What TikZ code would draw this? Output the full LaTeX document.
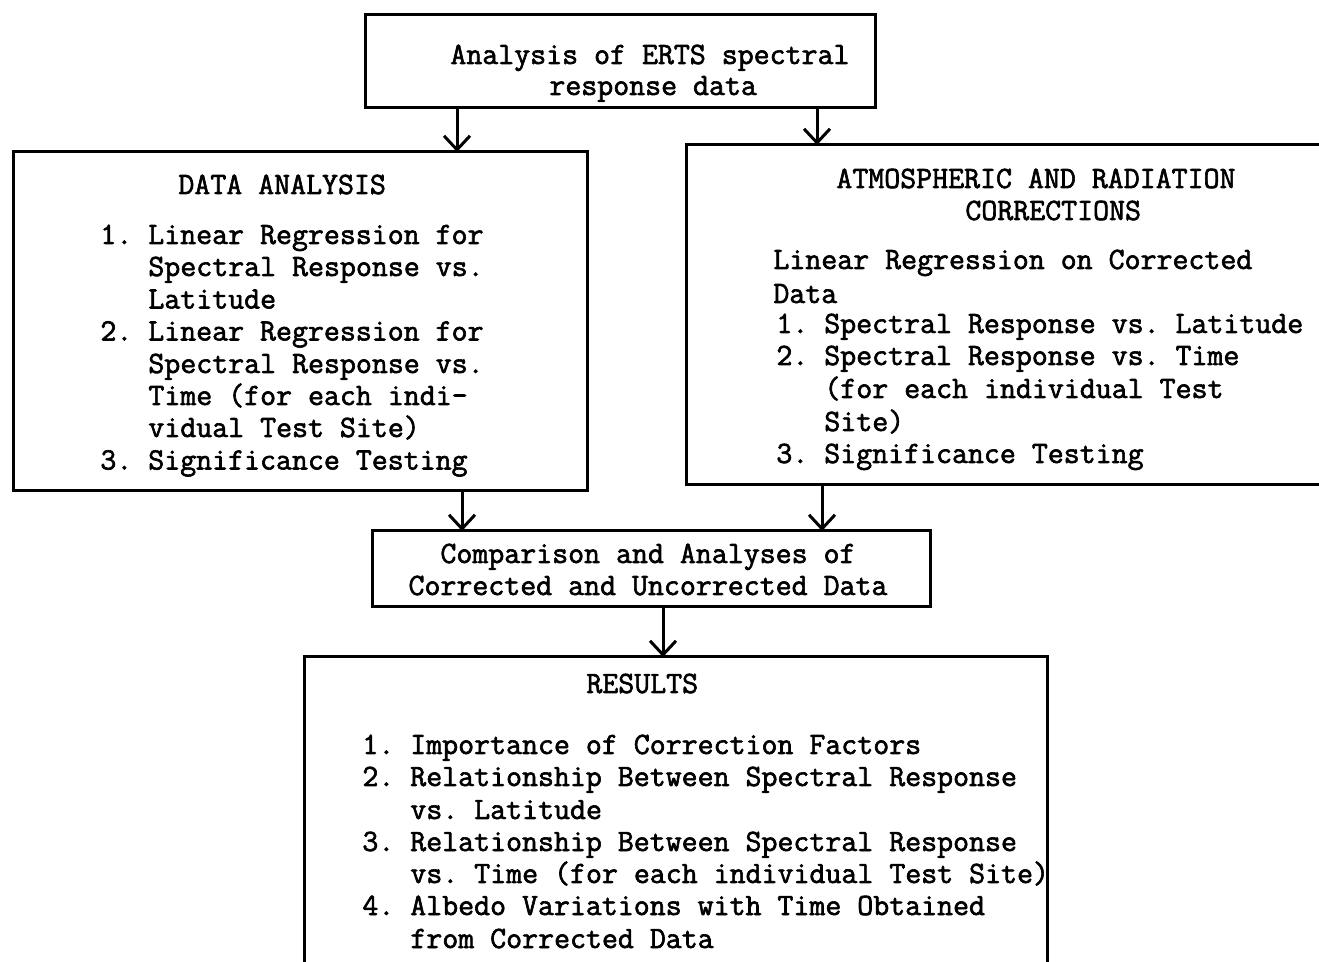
\documentclass[tikz,border=0pt]{standalone}
\usepackage{fontspec}
\setmonofont{Latin Modern Mono}[FakeBold=2]
\frenchspacing
\usetikzlibrary{arrows.meta}
\tikzset{
  box/.style={draw, line width=1.5pt, inner sep=0pt, outer sep=0pt, rectangle},
  txt/.style={anchor=base west, inner sep=0pt, font=\ttfamily\fontsize{15.5pt}{18pt}\selectfont},
  ctxt/.style={anchor=base, inner sep=0pt, font=\ttfamily\fontsize{15.5pt}{18pt}\selectfont},
  arr/.style={line width=1.5pt, -{Straight Barb[length=7pt,width=13pt,line width=1.5pt]}}
}
\newcommand\TL[4]{\node[txt] (#1) at (#2,#3) {#4};}
\begin{document}
\begin{tikzpicture}[x=0.5pt,y=-0.5pt]
\useasboundingbox (0,0) rectangle (1319,962);
\clip (0,0) rectangle (1319,962);
% boxes
\node[box, minimum width=255pt, minimum height=46.5pt] (top) at (620,61.5) {};
\node[box, minimum width=287pt, minimum height=169.5pt] (da) at (300,321.5) {};
\node[box, minimum width=357pt, minimum height=170pt] (atm) at (1043,315) {};
\node[box, minimum width=279pt, minimum height=38pt] (cmp) at (651,569) {};
\node[box, minimum width=371.5pt, minimum height=171.5pt] (res) at (675.5,828.5) {};
% arrows
\draw[arr] (top.south -| 457,0) -- (da.north -| 457,0);
\draw[arr] (top.south -| 817,0) -- (atm.north -| 817,0);
\draw[arr] (da.south -| 462,0) -- (cmp.north -| 462,0);
\draw[arr] (atm.south -| 822,0) -- (cmp.north -| 822,0);
\draw[arr] (cmp.south -| 663,0) -- (res.north -| 663,0);
% top text
\TL{t1}{450}{64}{Analysis of ERTS spectral}
\TL{t2}{549}{95}{response data}
% data analysis
\TL{d0}{178}{194}{DATA ANALYSIS}
\TL{d1}{100}{244}{1. Linear Regression for}
\TL{d2}{148}{276}{Spectral Response vs.}
\TL{d3}{148}{308.5}{Latitude}
\TL{d4}{100}{340.5}{2. Linear Regression for}
\TL{d5}{148}{373}{Spectral Response vs.}
\TL{d6}{148}{405}{Time (for each indi-}
\TL{d7}{148}{437}{vidual Test Site)}
\TL{d8}{100}{469.5}{3. Significance Testing}
% atmospheric
\TL{a0}{836}{188}{ATMOSPHERIC AND RADIATION}
\TL{a1}{965}{220}{CORRECTIONS}
\TL{a2}{773}{269}{Linear Regression on Corrected}
\TL{a3}{773}{303}{Data}
\TL{a4}{776}{333}{1. Spectral Response vs. Latitude}
\TL{a5}{776}{365}{2. Spectral Response vs. Time}
\TL{a6}{824}{398}{(for each individual Test}
\TL{a7}{824}{431}{Site)}
\TL{a8}{776}{463}{3. Significance Testing}
% comparison
\node[ctxt] (c1) at (648,563) {Comparison and Analyses of};
\node[ctxt] (c2) at (648,595) {Corrected and Uncorrected Data};
% results
\TL{r0}{586}{693}{RESULTS}
\TL{r1}{362}{754}{1. Importance of Correction Factors}
\TL{r2}{362}{786}{2. Relationship Between Spectral Response}
\TL{r3}{410}{819}{vs. Latitude}
\TL{r4}{362}{851}{3. Relationship Between Spectral Response}
\TL{r5}{410}{883}{vs. Time (for each individual Test Site)}
\TL{r6}{362}{915}{4. Albedo Variations with Time Obtained}
\TL{r7}{410}{948}{from Corrected Data}
\end{tikzpicture}
\end{document}
